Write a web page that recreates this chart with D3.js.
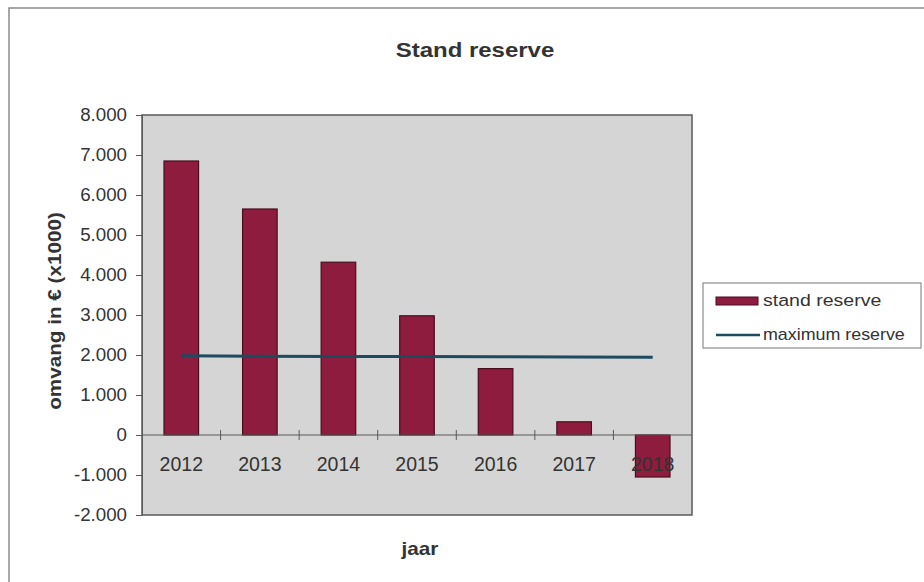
<!DOCTYPE html>
<html>
<head>
<meta charset="utf-8">
<script src="https://cdn.jsdelivr.net/npm/d3@7"></script>
<style>
  body { margin: 0; background: #fff; }
  svg { display: block; font-family: "Liberation Sans", Arial, sans-serif; }
</style>
</head>
<body>
<div id="viz"></div>
<script>
// chart data
const years = ["2012", "2013", "2014", "2015", "2016", "2017", "2018"];
const standReserve = [6850, 5650, 4320, 2980, 1660, 330, -1050];
const maximumReserve = [1980, 1970, 1965, 1960, 1955, 1950, 1945];
const yTicks = [-2000, -1000, 0, 1000, 2000, 3000, 4000, 5000, 6000, 7000, 8000];

const width = 924, height = 582;
const plot = { left: 142, right: 692, top: 115, bottom: 515 };
const textColor = "#333";

const svg = d3.select("#viz").append("svg")
    .attr("width", width)
    .attr("height", height);

// the scan is a bit wider than the font, so text gets a small horizontal stretch
function label(g, x, y, str, size, opts = {}) {
    const sx = opts.sx || 1.15;
    const rot = opts.rotate ? ` rotate(${opts.rotate})` : "";
    const t = g.append("text")
        .attr("transform", `translate(${x},${y})${rot} scale(${sx},1)`)
        .attr("text-anchor", opts.anchor || "start")
        .attr("font-size", size)
        .attr("fill", textColor)
        .text(str);
    if (opts.bold) t.attr("font-weight", "bold");
    return t;
}

// outer frame (only top and left edges visible in the scan)
svg.append("path")
    .attr("d", `M9,${height} L9,8 L${width},8`)
    .attr("fill", "none")
    .attr("stroke", "#8a8a8a")
    .attr("stroke-width", 1.5);

const x = d3.scaleBand().domain(years).range([plot.left, plot.right]).padding(0);
const y = d3.scaleLinear().domain([-2000, 8000]).range([plot.bottom, plot.top]);

// plot area
svg.append("rect")
    .attr("x", plot.left).attr("y", plot.top)
    .attr("width", plot.right - plot.left)
    .attr("height", plot.bottom - plot.top)
    .attr("fill", "#d5d5d5")
    .attr("stroke", "#5a5a5a")
    .attr("stroke-width", 1.5);

// y axis
const fmt = d => d3.format(",")(d).replace(/,/g, ".").replace("\u2212", "-");
const yAxis = svg.append("g")
    .attr("transform", `translate(${plot.left},0)`)
    .call(d3.axisLeft(y).tickValues(yTicks).tickFormat(fmt).tickSize(6).tickPadding(8));
yAxis.select(".domain").attr("stroke", "#5a5a5a");
yAxis.selectAll(".tick line").attr("stroke", "#5a5a5a");
yAxis.selectAll("text")
    .attr("font-size", 17.5)
    .attr("fill", textColor)
    .attr("transform", "scale(1.07,1)");

// bars
const barW = x.bandwidth() * 0.44;
svg.append("g").selectAll("rect")
    .data(standReserve)
    .join("rect")
    .attr("x", (d, i) => x(years[i]) + (x.bandwidth() - barW) / 2)
    .attr("y", d => y(Math.max(0, d)))
    .attr("width", barW)
    .attr("height", d => Math.abs(y(d) - y(0)))
    .attr("fill", "#8e1c3e")
    .attr("stroke", "#4a0d20")
    .attr("stroke-width", 1.2);

// x axis at zero, ticks between categories
const xAxis = svg.append("g")
    .attr("transform", `translate(0,${y(0)})`);
xAxis.append("line")
    .attr("x1", plot.left).attr("x2", plot.right)
    .attr("stroke", "#5a5a5a").attr("stroke-width", 1.2);
xAxis.selectAll(".sep")
    .data(years.slice(1))
    .join("line")
    .attr("x1", d => x(d)).attr("x2", d => x(d))
    .attr("y1", -5).attr("y2", 5)
    .attr("stroke", "#5a5a5a");
years.forEach(d => label(xAxis, x(d) + x.bandwidth() / 2, 36, d, 19.5, { anchor: "middle", sx: 1.0 }));

// maximum reserve line
const line = d3.line()
    .x((d, i) => x(years[i]) + x.bandwidth() / 2)
    .y(d => y(d));
svg.append("path")
    .datum(maximumReserve)
    .attr("d", line)
    .attr("fill", "none")
    .attr("stroke", "#1d4a5e")
    .attr("stroke-width", 3);

// titles
label(svg, 475, 57, "Stand reserve", 20.5, { anchor: "middle", bold: true, sx: 1.17 });
label(svg, 420, 555, "jaar", 18, { anchor: "middle", bold: true });
label(svg, 61, 311, "omvang in € (x1000)", 18, { anchor: "middle", bold: true, rotate: -90 });

// legend
const legend = svg.append("g");
legend.append("rect")
    .attr("x", 703).attr("y", 283)
    .attr("width", 218).attr("height", 65)
    .attr("fill", "#fff")
    .attr("stroke", "#777");
legend.append("rect")
    .attr("x", 716).attr("y", 297)
    .attr("width", 42).attr("height", 8)
    .attr("fill", "#8e1c3e")
    .attr("stroke", "#4a0d20");
label(legend, 763, 306, "stand reserve", 17);
legend.append("line")
    .attr("x1", 716).attr("x2", 760)
    .attr("y1", 335).attr("y2", 335)
    .attr("stroke", "#1d4a5e").attr("stroke-width", 2.5);
label(legend, 763, 340, "maximum reserve", 17, { sx: 1.05 });
</script>
</body>
</html>
